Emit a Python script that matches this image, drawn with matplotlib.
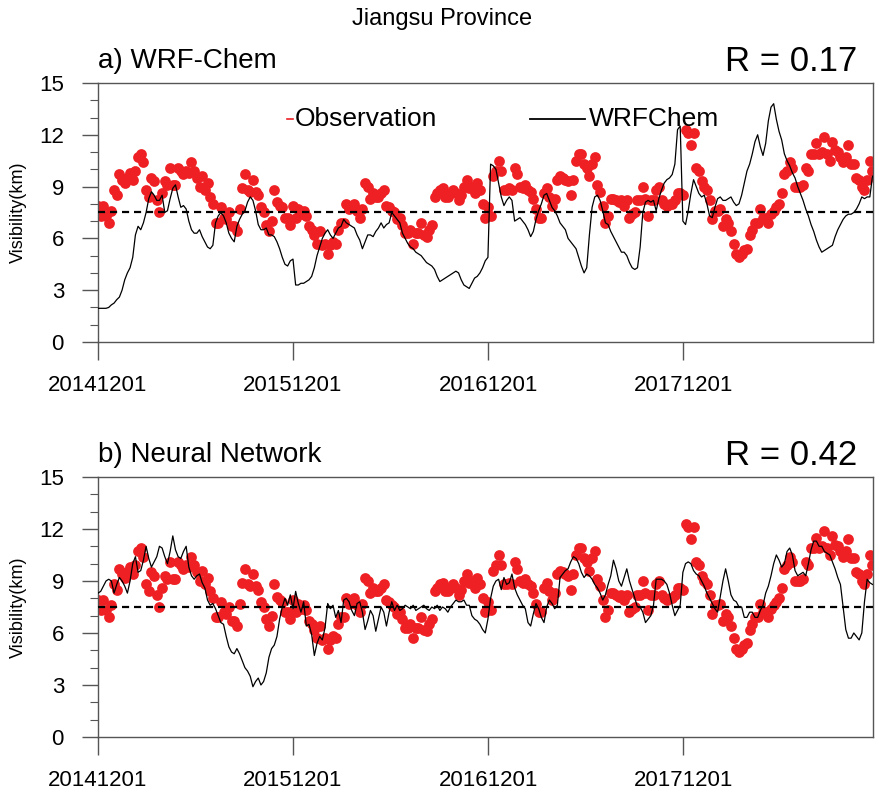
import numpy as np
import pandas as pd
import matplotlib
matplotlib.use("Agg")
import matplotlib.pyplot as plt
import matplotlib.dates as mdates
from matplotlib.ticker import MultipleLocator

plt.rcParams['font.family'] = ['Liberation Sans', 'DejaVu Sans']

# 5-day visibility series (km), starting 2014-12-01
obs = [
    # Dec 2014 - Nov 2015
    7.9, 7.3, 7.9, 7.3, 6.9, 7.6, 8.8, 8.5, 9.7, 9.4,
    9.2, 9.5, 9.8, 9.4, 9.9, 10.7, 10.9, 10.4, 8.8, 8.4,
    9.5, 9.3, 8.2, 7.5, 8.6, 9.3, 9.1, 10.1, 9.1, 9.1,
    10.1, 9.9, 9.7, 9.9, 9.8, 10.4, 9.9, 9.5, 9.0, 9.6,
    8.8, 9.2, 8.4, 8.0, 6.9, 6.9, 7.8, 7.2, 7.1, 7.5,
    6.7, 6.7, 6.4, 7.7, 8.9, 9.7, 8.8, 8.7, 9.4, 8.7,
    8.5, 7.8, 7.5, 6.8, 6.4, 7.0, 8.8, 8.1, 7.9, 7.8,
    7.2, 7.2, 6.8,
    # Dec 2015 - Nov 2016
    7.9, 7.2, 7.7, 7.4, 7.6, 7.3, 6.7, 6.5, 6.2, 5.7,
    6.4, 5.6, 5.7, 5.1, 5.6, 5.8, 5.7, 6.5, 6.9, 6.9,
    8.0, 7.7, 7.8, 8.0, 7.6, 7.2, 7.7, 9.2, 9.0, 8.3,
    8.6, 8.4, 8.4, 8.6, 8.8, 7.9, 7.8, 7.6, 7.5, 7.1,
    7.2, 6.8, 6.3, 6.3, 6.5, 5.7, 6.3, 6.3, 6.9, 6.2,
    6.1, 6.5, 6.8, 8.4, 8.6, 8.8, 8.9, 8.4, 8.4, 8.6,
    8.8, 8.6, 8.2, 8.5, 9.0, 9.4, 8.9, 9.0, 8.6, 9.2,
    8.8, 8.0, 7.2, 7.8,
    # Dec 2016 - Nov 2017
    7.3, 9.6, 9.9, 10.5, 9.9, 8.8, 8.8, 8.9, 8.8, 10.1,
    9.7, 9.0, 8.9, 9.1, 8.8, 8.7, 8.3, 7.7, 7.2, 7.2,
    8.6, 8.9, 8.4, 7.9, 8.3, 9.4, 9.6, 9.5, 9.4, 9.3,
    8.5, 9.4, 10.5, 10.9, 10.9, 10.3, 10.1, 9.6, 10.3, 10.7,
    9.1, 8.7, 7.9, 6.9, 7.3, 8.3, 8.3, 8.2, 8.1, 8.2,
    7.9, 8.2, 7.2, 7.4, 7.5, 8.2, 8.2, 9.0, 8.3, 7.3,
    8.2, 8.2, 8.8, 9.0, 8.2, 8.0, 7.9, 8.0, 8.0, 8.2,
    8.6, 8.6,
    # Dec 2017 - Nov 2018
    8.5, 12.3, 12.1, 11.4, 12.1, 10.1, 9.9, 9.3, 9.0, 8.8,
    8.2, 7.1, 7.6, 7.6, 7.7, 6.7, 7.1, 6.9, 6.4, 5.7,
    5.1, 4.9, 5.1, 5.3, 5.4, 6.2, 6.5, 6.9, 6.9, 7.7,
    7.2, 7.2, 6.9, 7.4, 7.6, 7.8, 8.0, 8.6, 9.7, 9.9,
    10.4, 10.1, 9.0, 9.0, 9.0, 9.1, 10.1, 9.9, 10.9, 10.9,
    11.5, 10.9, 11.0, 11.9, 10.9, 10.5, 11.6, 11.1, 11.0, 10.7,
    10.4, 10.7, 11.4, 10.3, 10.3, 9.5, 9.4, 9.0, 8.8, 9.4,
    10.5, 9.9,
]

wrf = [
    1.95, 1.95, 1.95, 1.95, 2.0, 2.15, 2.25, 2.45, 2.6, 3.0,
    3.6, 4.0, 4.3, 4.9, 6.2, 6.7, 6.5, 6.9, 7.5, 8.3,
    8.7, 8.5, 8.2, 8.2, 8.5, 7.5, 7.6, 8.3, 8.9, 9.1,
    8.4, 7.8, 7.9, 7.7, 7.0, 6.5, 6.3, 6.3, 6.5, 6.1,
    5.8, 5.5, 5.4, 5.6, 6.9, 7.3, 7.5, 7.3, 6.9, 6.3,
    6.0, 5.8, 6.7, 7.1, 7.4, 7.6, 8.1, 8.4, 8.2, 7.6,
    6.8, 6.5, 6.5, 6.6, 6.2, 6.2, 6.1, 5.8, 5.4, 4.9,
    4.5, 4.4, 4.7, 4.8, 3.3, 3.3, 3.4, 3.4, 3.5, 3.6,
    3.8, 4.3, 5.0, 5.5, 6.0, 6.3, 6.5, 6.2, 6.0, 6.3,
    6.6, 6.7, 7.1, 6.9, 6.8, 6.7, 6.6, 6.2, 5.9, 5.4,
    5.8, 6.2, 6.2, 6.1, 6.4, 6.6, 6.9, 6.6, 6.8, 6.9,
    7.5, 7.3, 7.1, 6.9, 6.3, 6.0, 5.7, 5.5, 5.4, 5.2,
    5.1, 5.0, 4.8, 4.6, 4.5, 4.4, 4.2, 3.8, 3.5,
    3.6, 3.7, 3.8, 3.9, 4.0, 4.1, 4.0, 3.6, 3.3, 3.2,
    3.1, 3.4, 3.7, 3.8, 4.0, 4.3, 4.7, 4.9,
    10.3, 10.2, 10.0, 9.2, 8.4, 7.9, 8.2, 8.4, 8.2, 7.0,
    7.1, 7.2, 7.0, 6.8, 6.5, 6.1, 6.4, 7.1, 7.6, 8.0,
    8.5, 8.6, 8.2, 7.8, 7.6, 7.3, 6.9, 6.7, 6.5, 6.0,
    5.8, 5.6, 5.4, 4.9, 4.4, 4.0, 4.3, 6.2, 7.8, 8.4,
    8.5, 8.2, 7.6, 6.9, 6.8, 6.4, 6.1, 5.8, 5.5, 5.2,
    5.2, 5.0, 4.6, 4.3, 4.2, 4.3, 5.5, 7.5, 8.1, 8.2,
    8.1, 8.2, 7.6, 8.3, 8.8, 9.2, 9.4, 9.5, 9.7, 10.3,
    12.3, 12.5,
    7.0, 6.8, 7.6, 8.6, 9.4, 9.0, 8.6, 8.4, 8.5, 8.0,
    7.3, 7.2, 7.8, 8.3, 8.4, 8.2, 8.2, 8.3, 8.4, 8.1,
    7.9, 8.0, 8.5, 9.2, 9.9, 10.3, 10.9, 11.6, 12.0, 11.3,
    10.8, 11.5, 12.8, 13.6, 13.8, 12.9, 12.2, 11.7, 10.9, 10.5,
    10.2, 9.8, 9.5, 9.0, 8.6, 8.2, 7.7, 7.3, 6.8, 6.4,
    5.9, 5.5, 5.2, 5.3, 5.4, 5.5, 5.6, 6.1, 6.5, 6.8,
    7.1, 7.3, 7.4, 7.4, 7.5, 7.7, 8.0, 8.4, 8.3, 8.4,
    8.4, 9.6,
]

nn = [
    8.3, 8.4, 8.7, 9.0, 9.1, 9.0, 8.3, 8.8, 9.2, 9.0,
    8.7, 8.3, 9.0, 10.0, 10.4, 9.5, 9.6, 10.2, 11.0, 10.3,
    9.8, 10.1, 10.4, 11.0, 10.9, 10.4, 10.0, 10.7, 11.6, 10.8,
    10.4, 10.3, 10.7, 11.0, 9.8, 9.3, 9.1, 9.3, 9.4, 8.9,
    8.6, 7.9, 7.6, 7.7,
    7.4, 7.0, 6.6, 6.5, 5.8, 5.2, 4.9, 4.8, 5.1, 4.8,
    4.4, 4.0, 3.8, 3.5, 2.9, 3.2, 3.4, 3.0, 3.2, 3.7,
    4.6, 5.1, 5.3, 5.8, 6.8, 7.5, 8.0, 7.6, 8.2, 7.4,
    8.4, 7.7, 7.2, 7.8, 6.4, 6.5, 5.9, 4.7, 5.4, 5.8,
    5.6, 6.3, 7.7, 7.4, 7.6, 6.9, 7.3, 6.6, 7.9, 8.0,
    7.8, 7.3, 7.0, 7.7, 7.8, 7.2, 6.2, 6.7, 7.3, 7.0,
    6.1, 6.8, 7.5, 7.2, 6.4, 7.2, 7.8, 7.3, 7.6, 7.3,
    7.4, 7.6, 7.5, 7.4, 7.6, 7.3, 7.4, 7.5, 7.6, 7.4,
    7.3, 7.5, 7.4, 7.6, 7.3,
    7.5, 7.4, 7.2, 7.5, 7.7, 7.9, 7.8, 7.8, 7.9, 7.6,
    7.6, 7.0, 6.8, 6.7, 6.5, 6.2, 6.0, 6.8, 8.0, 8.7,
    9.0, 9.1, 8.5, 9.2, 8.8, 8.9, 9.4, 8.6, 8.2, 7.9,
    7.6, 7.4, 6.6, 6.4, 7.1, 7.7, 7.4, 6.9, 6.6, 7.5,
    7.9, 7.7, 7.4, 7.6, 9.2, 9.4, 9.6, 9.7, 10.1, 10.4,
    10.3, 10.0, 9.5, 9.2, 9.4, 9.3, 9.1, 8.8, 8.6, 8.3,
    7.9, 8.2, 8.8, 9.3, 10.2, 9.7, 9.0, 8.7, 9.2, 9.7,
    9.0, 8.5, 8.0, 7.5, 7.5, 7.2, 6.6, 6.8, 7.0, 7.6,
    9.1, 9.1, 9.1, 9.0, 8.8, 8.3, 7.6, 7.0, 7.3, 7.6,
    9.5, 10.0, 10.1, 10.0, 9.6, 9.4, 9.3, 9.0, 8.7, 8.3,
    8.0, 7.7, 7.4, 7.2, 8.1, 9.0, 9.7, 9.0, 8.2, 7.9,
    7.8, 7.5, 7.5, 6.9, 6.9, 7.2, 7.2, 6.9, 6.9, 7.3,
    7.6, 8.3, 8.7, 9.3, 10.0, 10.5, 10.2, 9.8, 10.0, 10.7,
    10.9, 10.5, 9.6, 9.3, 9.4, 9.5, 9.3, 10.0, 10.8, 11.3,
    11.3, 11.0, 11.0, 10.7, 10.6, 10.5, 10.1, 9.7, 9.2, 8.8,
    7.5, 6.2, 5.7, 5.7, 6.0, 5.8, 5.6, 6.0, 7.8, 9.1,
    8.9, 8.8,
]

obs_mean = 7.5
titles = ['a) WRF-Chem', 'b) Neural Network']
r_values = [0.17, 0.42]
year_ticks = ['2014-12-01', '2015-12-01', '2016-12-01', '2017-12-01']

start = pd.Timestamp('2014-12-01')
t_obs = pd.date_range(start, periods=len(obs), freq='5D')
t_wrf = pd.date_range(start, periods=len(wrf), freq='5D')
t_nn = pd.date_range(start, periods=len(nn), freq='5D')
x_end = start + pd.Timedelta(days=1451)

fig = plt.figure(figsize=(8.76, 7.94), dpi=100)
ax_a = fig.add_axes([0.1119, 0.5693, 0.8847, 0.3262])
ax_b = fig.add_axes([0.1119, 0.0718, 0.8847, 0.3275])

red = '#EE2024'
frame = '#555555'

for ax, (t_mod, mod), title, r in zip([ax_a, ax_b], [(t_wrf, wrf), (t_nn, nn)],
                                      titles, r_values):
    ax.scatter(t_obs, obs, s=60, color=red, linewidths=0, zorder=2)
    ax.plot(t_mod, mod, color='black', lw=0.9, zorder=3)
    ax.axhline(obs_mean, color='black', lw=1.6, ls=(0, (3.2, 2.2)), zorder=4)

    ax.set_xlim(start, x_end)
    ax.set_ylim(0, 15)
    ax.yaxis.set_major_locator(MultipleLocator(3))
    ax.yaxis.set_minor_locator(MultipleLocator(1))
    ax.set_xticks(pd.to_datetime(year_ticks))
    ax.xaxis.set_major_formatter(mdates.DateFormatter('%Y%m%d'))

    for s in ax.spines.values():
        s.set_color(frame)
        s.set_linewidth(1.0)
    ax.tick_params(axis='y', which='major', direction='out', length=11.5,
                   width=1.0, color=frame, labelsize=16, pad=13)
    ax.tick_params(axis='y', which='minor', direction='out', length=5.8,
                   width=0.8, color=frame)
    ax.tick_params(axis='x', which='major', direction='out', length=13,
                   width=1.0, color=frame, labelsize=16, pad=11)
    ax.set_ylabel('Visibility(km)', fontsize=13, labelpad=9)

    ax.text(0.0, 1.035, title, transform=ax.transAxes, fontsize=20,
            ha='left', va='bottom')
    ax.text(0.98, 1.02, f'R = {r:.2f}', transform=ax.transAxes, fontsize=25,
            ha='right', va='bottom')

# legend entries drawn by hand
ax_a.plot([0.244, 0.251], [0.862, 0.862], transform=ax_a.transAxes,
          color=red, lw=1.2, clip_on=False)
ax_a.text(0.254, 0.862, 'Observation', transform=ax_a.transAxes,
          fontsize=19, ha='left', va='center')
ax_a.plot([0.557, 0.628], [0.862, 0.862], transform=ax_a.transAxes,
          color='black', lw=1.3, clip_on=False)
ax_a.text(0.634, 0.862, 'WRFChem', transform=ax_a.transAxes,
          fontsize=19, ha='left', va='center')

fig.text(0.505, 0.962, 'Jiangsu Province', fontsize=17, ha='center',
         va='bottom')

fig.savefig('out.png', dpi=100)
